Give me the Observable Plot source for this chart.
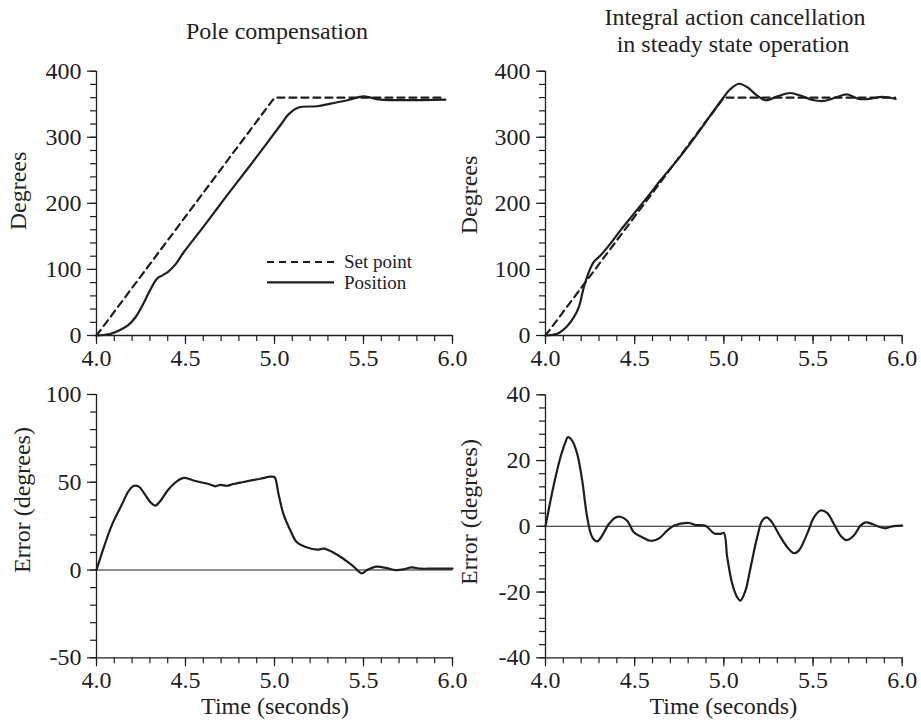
<!DOCTYPE html>
<html><head><meta charset="utf-8">
<script src="https://cdn.jsdelivr.net/npm/d3@7"></script>
<script src="https://cdn.jsdelivr.net/npm/@observablehq/plot@0.6"></script>
<style>
body{margin:0;background:#fff;}
#root{position:relative;width:921px;height:724px;overflow:hidden;font-family:"Liberation Serif","Times New Roman",serif;color:#222;}
.pn{position:absolute;}
.t{position:absolute;font-size:24px;line-height:23px;white-space:nowrap;transform:translateX(-50%);text-align:center;}
.yl{position:absolute;font-size:24px;line-height:24px;white-space:nowrap;transform:translate(-50%,-50%) rotate(-90deg);}
.lg{position:absolute;font-size:19px;line-height:19px;white-space:nowrap;}
</style></head>
<body><div id="root"></div>
<script>
// ---------- data ----------
const xMajor = [4.0, 4.5, 5.0, 5.5, 6.0];
const xMajorLabels = ["4.0", "4.5", "5.0", "5.5", "6.0"];
const xMinor = [4.0,4.1,4.2,4.3,4.4,4.5,4.6,4.7,4.8,4.9,5.0,5.1,5.2,5.3,5.4,5.5,5.6,5.7,5.8,5.9,6.0];

const degMajor = [0, 100, 200, 300, 400];
const degMajorLabels = ["0", "100", "200", "300", "400"];
const degMinor = [0,20,40,60,80,100,120,140,160,180,200,220,240,260,280,300,320,340,360,380,400];

const errLMajor = [-50, 0, 50, 100];
const errLMajorLabels = ["-50", "0", "50", "100"];
const errLMinor = [-50,-40,-30,-20,-10,0,10,20,30,40,50,60,70,80,90,100];

const errRMajor = [-40, -20, 0, 20, 40];
const errRMajorLabels = ["-40", "-20", "0", "20", "40"];
const errRMinor = [-40,-36,-32,-28,-24,-20,-16,-12,-8,-4,0,4,8,12,16,20,24,28,32,36,40];

// set point (both panels)
const setTime = [4.0, 5.0, 5.96];
const setValue = [0, 360, 360];

// Pole compensation: position
const posLTime = [4.0, 4.04, 4.08, 4.135, 4.18, 4.22, 4.257, 4.30, 4.34, 4.37, 4.40, 4.445, 4.49, 4.585, 4.68, 4.77, 4.865, 4.96, 5.035, 5.08, 5.135, 5.24, 5.315, 5.41, 5.50, 5.54, 5.595, 5.96];
const posLValue = [0, 0.8, 2.5, 8.6, 16, 28, 45, 68, 86, 91, 96, 108, 126, 159, 193, 225, 258, 292, 319, 335, 345, 347, 351, 356, 362, 360, 357, 357];

// Integral action cancellation: position
const posRTime = [4.0, 4.065, 4.12, 4.159, 4.187, 4.215, 4.243, 4.27, 4.308, 4.364, 4.42, 4.495, 4.57, 4.645, 4.738, 4.832, 4.925, 5.0, 5.037, 5.084, 5.13, 5.187, 5.234, 5.30, 5.374, 5.43, 5.505, 5.56, 5.636, 5.69, 5.757, 5.813, 5.888, 5.963];
const posRValue = [0, 2.5, 13.6, 27.7, 43, 73, 96, 111, 121, 139, 159, 184, 209, 235, 265, 298, 333, 361, 373, 381, 376, 363, 356, 362, 367, 363, 356, 355, 361, 365, 358, 358, 361, 358];

// Pole compensation: error
const errLTime = [4.0, 4.041, 4.088, 4.144, 4.18, 4.21, 4.238, 4.266, 4.303, 4.33, 4.36, 4.397, 4.444, 4.49, 4.537, 4.584, 4.63, 4.668, 4.696, 4.733, 4.77, 4.846, 4.92, 4.977, 5.0, 5.023, 5.05, 5.09, 5.126, 5.18, 5.24, 5.277, 5.33, 5.389, 5.445, 5.49, 5.52, 5.575, 5.63, 5.68, 5.725, 5.77, 5.82, 5.89, 6.0];
const errLValue = [0, 12.9, 26, 37.6, 45, 48, 47.5, 44, 38.6, 36.7, 39.5, 45, 50, 52.5, 51.3, 50, 49, 47.7, 48.5, 48, 49, 50.6, 52, 53.2, 52.9, 43, 32, 22.4, 15.8, 13, 11.6, 12.2, 10, 6.3, 1.9, -1.9, 0, 1.9, 1.1, 0, 0.4, 1.5, 0.8, 0.8, 0.8];

// Integral action cancellation: error
const errRTime = [4.0, 4.028, 4.056, 4.084, 4.112, 4.125, 4.15, 4.178, 4.206, 4.234, 4.262, 4.29, 4.318, 4.355, 4.393, 4.42, 4.458, 4.495, 4.542, 4.589, 4.636, 4.682, 4.72, 4.804, 4.84, 4.897, 4.944, 4.981, 5.0, 5.019, 5.047, 5.075, 5.093, 5.121, 5.15, 5.187, 5.215, 5.24, 5.27, 5.318, 5.364, 5.393, 5.42, 5.467, 5.505, 5.542, 5.58, 5.617, 5.654, 5.688, 5.729, 5.766, 5.794, 5.832, 5.879, 5.907, 5.944, 6.0];
const errRValue = [0, 7.8, 14.9, 21, 25.6, 27.1, 26, 22, 13.9, 2.7, -3.3, -4.6, -2.8, 0.7, 2.7, 2.9, 1.7, -1.8, -3.3, -4.4, -3.7, -1.3, 0.2, 1.0, 0.4, 0.2, -2.1, -2.3, -2.0, -9.4, -17.5, -21.6, -22.6, -19.6, -12.5, -3.3, 1.7, 2.7, 1.2, -3.3, -6.9, -8.2, -7.4, -2.3, 2.7, 4.8, 4.0, 0.7, -2.8, -4.2, -2.8, 0.2, 1.2, 0.7, -0.3, -0.6, 0, 0.2];

// ---------- drawing ----------
const INK = "#1e1e1e";
const root = document.getElementById("root");
const rows = (ts, vs) => ts.map((t, i) => ({t, v: vs[i]}));

function panel(cfg) {
  const yMin = cfg.yDomain[0], yMax = cfg.yDomain[1];
  const yLab = new Map(cfg.yMajor.map((d, i) => [d, cfg.yLabels[i]]));
  const xLab = new Map(xMajor.map((d, i) => [d, xMajorLabels[i]]));
  const marks = [];
  if (cfg.zero) marks.push(Plot.ruleY([0], {x1: 4, x2: 6, stroke: INK, strokeWidth: 1.1}));
  for (const s of cfg.series) {
    marks.push(Plot.line(rows(s.t, s.v), {
      x: "t", y: "v", stroke: INK, strokeWidth: 2.2,
      strokeDasharray: s.dash || null, curve: s.curve || "catmull-rom"
    }));
  }
  marks.push(Plot.axisX({ticks: xMinor, tickSize: 6, tickFormat: () => "", label: null, strokeWidth: 1.2}));
  marks.push(Plot.axisX({ticks: xMajor, tickSize: 9, tickPadding: 4, tickFormat: d => xLab.get(d), label: null, strokeWidth: 1.2}));
  marks.push(Plot.axisY({ticks: cfg.yMinor, tickSize: 6, tickFormat: () => "", label: null, strokeWidth: 1.2}));
  marks.push(Plot.axisY({ticks: cfg.yMajor, tickSize: 9, tickPadding: 6, tickFormat: d => yLab.get(d), label: null, strokeWidth: 1.2}));
  marks.push(Plot.ruleX([4], {y1: yMin, y2: yMax, stroke: INK, strokeWidth: 1.3}));
  marks.push(Plot.ruleY([yMin], {x1: 4, x2: 6, stroke: INK, strokeWidth: 1.3}));
  const svg = Plot.plot({
    width: cfg.width, height: cfg.height,
    marginLeft: cfg.mL, marginRight: cfg.mR, marginTop: cfg.mT, marginBottom: cfg.mB,
    x: {domain: [4, 6]},
    y: {domain: cfg.yDomain},
    style: {background: "transparent", fontFamily: "Liberation Serif, Times New Roman, serif", fontSize: "24px", color: INK, overflow: "visible"},
    marks
  });
  const wrap = document.createElement("div");
  wrap.className = "pn";
  wrap.style.left = cfg.left + "px";
  wrap.style.top = cfg.top + "px";
  wrap.appendChild(svg);
  root.appendChild(wrap);
}

panel({left: 0, top: 50, width: 460, height: 320, mL: 96, mR: 8, mT: 20.7, mB: 35,
  yDomain: [0, 400], yMajor: degMajor, yLabels: degMajorLabels, yMinor: degMinor,
  series: [{t: setTime, v: setValue, dash: "7,5", curve: "linear"}, {t: posLTime, v: posLValue}]});
panel({left: 449, top: 50, width: 472, height: 320, mL: 96, mR: 19.3, mT: 20.7, mB: 35,
  yDomain: [0, 400], yMajor: degMajor, yLabels: degMajorLabels, yMinor: degMinor,
  series: [{t: setTime, v: setValue, dash: "7,5", curve: "linear"}, {t: posRTime, v: posRValue}]});
panel({left: 0, top: 370, width: 460, height: 354, mL: 96, mR: 8, mT: 24, mB: 66.7,
  yDomain: [-50, 100], yMajor: errLMajor, yLabels: errLMajorLabels, yMinor: errLMinor, zero: true,
  series: [{t: errLTime, v: errLValue}]});
panel({left: 449, top: 370, width: 472, height: 354, mL: 96, mR: 19.3, mT: 24.3, mB: 66.7,
  yDomain: [-40, 40], yMajor: errRMajor, yLabels: errRMajorLabels, yMinor: errRMinor, zero: true,
  series: [{t: errRTime, v: errRValue}]});

// ---------- text ----------
function addText(cls, text, x, y) {
  const d = document.createElement("div");
  d.className = cls;
  d.textContent = text;
  d.style.left = x + "px";
  d.style.top = y + "px";
  root.appendChild(d);
  return d;
}
addText("t", "Pole compensation", 277, 19.5);
addText("t", "Integral action cancellation", 735, 5.9);
addText("t", "in steady state operation", 733, 32.7);
addText("yl", "Degrees", 18, 191);
addText("yl", "Degrees", 469, 195);
addText("yl", "Error (degrees)", 22, 500);
addText("yl", "Error (degrees)", 469, 512);
addText("t", "Time (seconds)", 275, 694.5);
addText("t", "Time (seconds)", 723.3, 694.5);

// legend
const lg = document.createElementNS("http://www.w3.org/2000/svg", "svg");
lg.setAttribute("width", 80); lg.setAttribute("height", 40);
lg.style.position = "absolute"; lg.style.left = "262px"; lg.style.top = "252px";
lg.innerHTML = `<line x1="5" x2="72" y1="10" y2="10" stroke="${INK}" stroke-width="2.2" stroke-dasharray="7,5"/>
<line x1="5" x2="72" y1="30.3" y2="30.3" stroke="${INK}" stroke-width="2.2"/>`;
root.appendChild(lg);
addText("lg", "Set point", 344, 252);
addText("lg", "Position", 344, 273.4);
</script>
</body></html>
